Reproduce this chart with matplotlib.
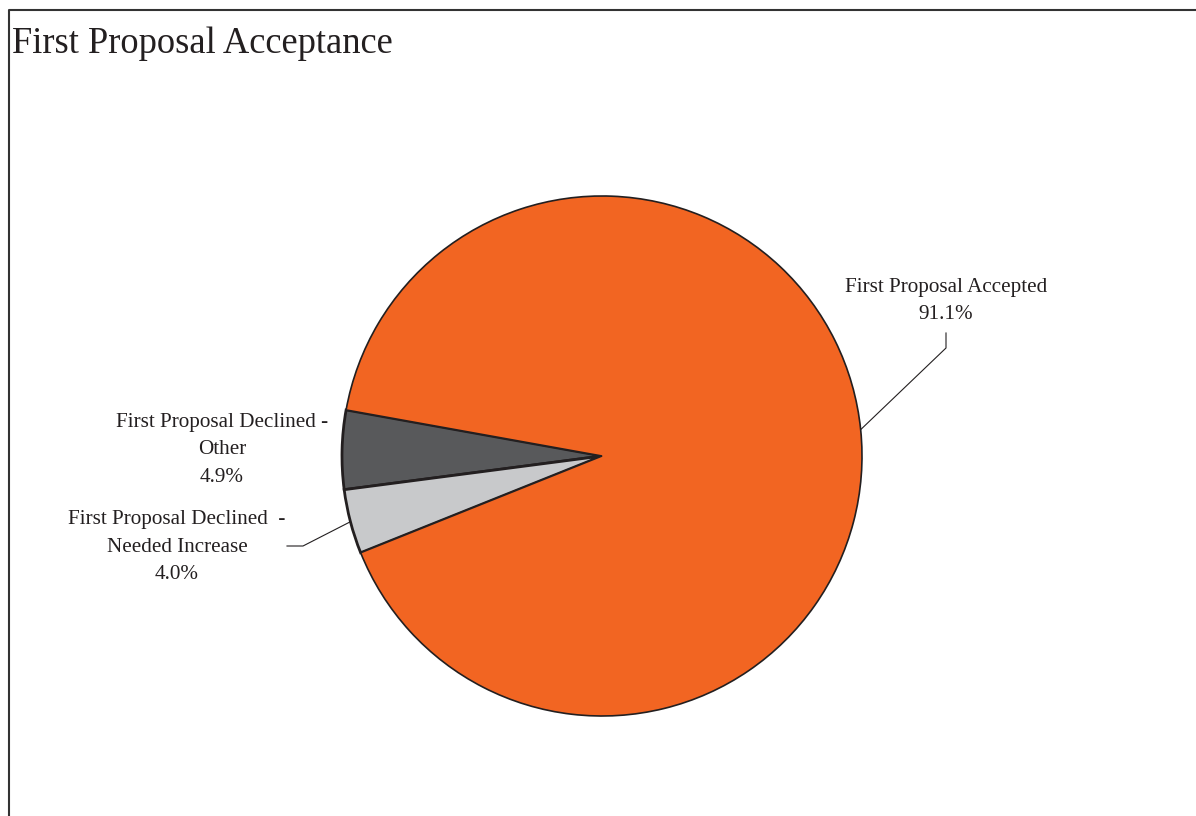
import numpy as np
import matplotlib
matplotlib.use('Agg')
import matplotlib.pyplot as plt

plt.rcParams['font.family'] = ['Liberation Serif', 'DejaVu Serif']

labels = ['First Proposal Declined -\nOther',
          'First Proposal Declined  -\nNeeded Increase',
          'First Proposal Accepted']
shares = [4.9, 4.0, 91.1]
colors = ['#58595B', '#C8C9CB', '#F26522']

W, H = 1196, 816
fig = plt.figure(figsize=(W / 100, H / 100), dpi=100)
ax = fig.add_axes([0, 0, 1, 1])

# pie, centre and radius in pixel units
cx, cy, r = 602, H - 456, 260
wedges, _ = ax.pie(shares, colors=colors, startangle=169.8, counterclock=True,
                   center=(cx, cy), radius=r, frame=True,
                   wedgeprops=dict(edgecolor='#231F20', linewidth=1.2))
for w in wedges[:2]:
    w.set_linewidth(2.0)
ax.set_xlim(0, W)
ax.set_ylim(0, H)
ax.set_aspect('equal')
ax.axis('off')

# frame
fig.add_artist(plt.Line2D([9 / W, 9 / W, 1], [0, 1 - 10 / H, 1 - 10 / H],
                          color='#333333', linewidth=1.5, transform=fig.transFigure))

ax.text(12, H - 53, 'First Proposal Acceptance', fontsize=26.3, color='#231F20',
        ha='left', va='baseline')

# labels: text centre, leader bend, leader end (pixel coords, y down)
label_pos = [(222, 450), (177, 547), (946, 301)]
leaders = [None, [(303, 546), (287, 546)], [(946, 348), (946, 333)]]
for w, lab, s, (tx, ty), ld in zip(wedges, labels, shares, label_pos, leaders):
    ax.text(tx, H - ty, f'{lab}\n{s:.1f}%', fontsize=15.2, color='#231F20',
            ha='center', va='center', linespacing=1.62)
    if ld is not None:
        mid = np.deg2rad((w.theta1 + w.theta2) / 2)
        pts = [(cx + r * np.cos(mid), cy + r * np.sin(mid))] + [(x, H - y) for x, y in ld]
        xs, ys = zip(*pts)
        ax.plot(xs, ys, color='#231F20', linewidth=0.8)

fig.savefig('out.png', dpi=100)
